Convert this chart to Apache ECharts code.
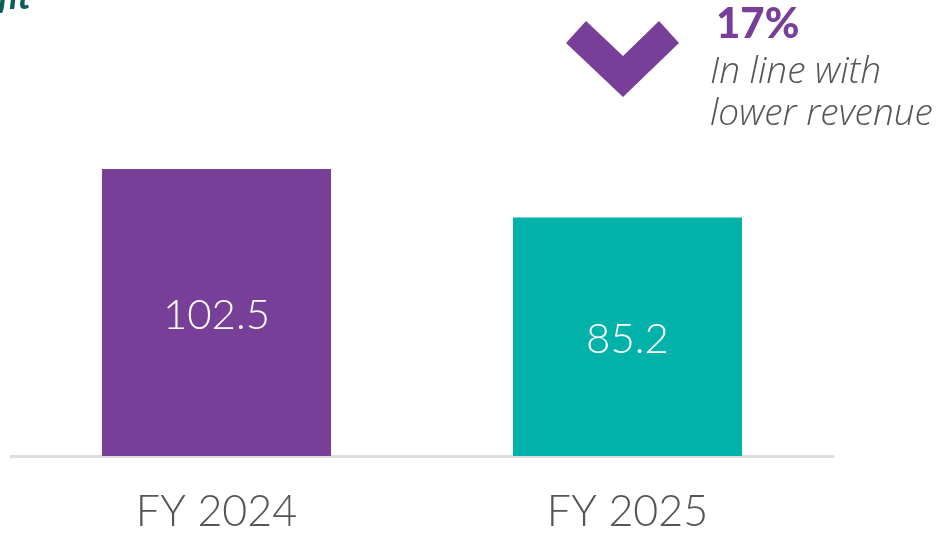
<!DOCTYPE html>
<html>
<head>
<meta charset="utf-8">
<script src="https://cdn.jsdelivr.net/npm/echarts@6/dist/echarts.min.js"></script>
<style>
  html, body { margin: 0; padding: 0; background: #fff; }
  #chart { width: 943px; height: 534px; }
</style>
</head>
<body>
<div id="chart"></div>
<script>
// data
var categories = ["FY 2024", "FY 2025"];
var values = [102.5, 85.2];
var barColors = ["#773f97", "#00b2aa"];
var changeText = "17%";
var noteLines = ["In line with", "lower revenue"];
var titleText = "Profit";

var chart = echarts.init(document.getElementById("chart"));

chart.setOption({
  animation: false,
  grid: { left: 11, right: 110, top: 148, bottom: 72 },
  xAxis: {
    type: "category",
    data: categories,
    axisLine: { lineStyle: { color: "#dcdcdc", width: 3 } },
    axisTick: { show: false },
    axisLabel: {
      color: "#555",
      fontFamily: "Lato",
      fontWeight: 300,
      fontSize: 43,
      margin: 35
    }
  },
  yAxis: {
    type: "value",
    min: 0,
    max: 110,
    show: false,
    splitLine: { show: false }
  },
  series: [{
    type: "bar",
    barWidth: 229,
    data: values.map(function (v, i) {
      return { value: v, itemStyle: { color: barColors[i] } };
    }),
    label: {
      show: true,
      position: "inside",
      color: "#fff",
      fontFamily: "Lato",
      fontWeight: 300,
      fontSize: 42,
      offset: [0, 3]
    }
  }],
  graphic: [
    {
      type: "text",
      style: {
        x: 31,
        y: 15,
        text: titleText,
        fill: "#0b5e5a",
        font: "italic bold 36px Lato",
        align: "right",
        verticalAlign: "bottom"
      }
    },
    {
      type: "polygon",
      shape: {
        points: [[566, 43], [586, 21], [623, 56], [659, 21], [679, 43], [623, 97]]
      },
      style: { fill: "#773f97" }
    },
    {
      type: "text",
      left: 716,
      top: 3,
      style: {
        text: changeText,
        fill: "#773f97",
        font: "900 42px Lato"
      }
    },
    {
      type: "text",
      left: 710,
      top: 51,
      style: {
        text: noteLines.join("\n"),
        fill: "#555",
        font: "italic 300 37px 'Open Sans'",
        lineHeight: 42
      }
    }
  ]
});

window.addEventListener("resize", function () {
  chart.resize();
});
</script>
</body>
</html>
